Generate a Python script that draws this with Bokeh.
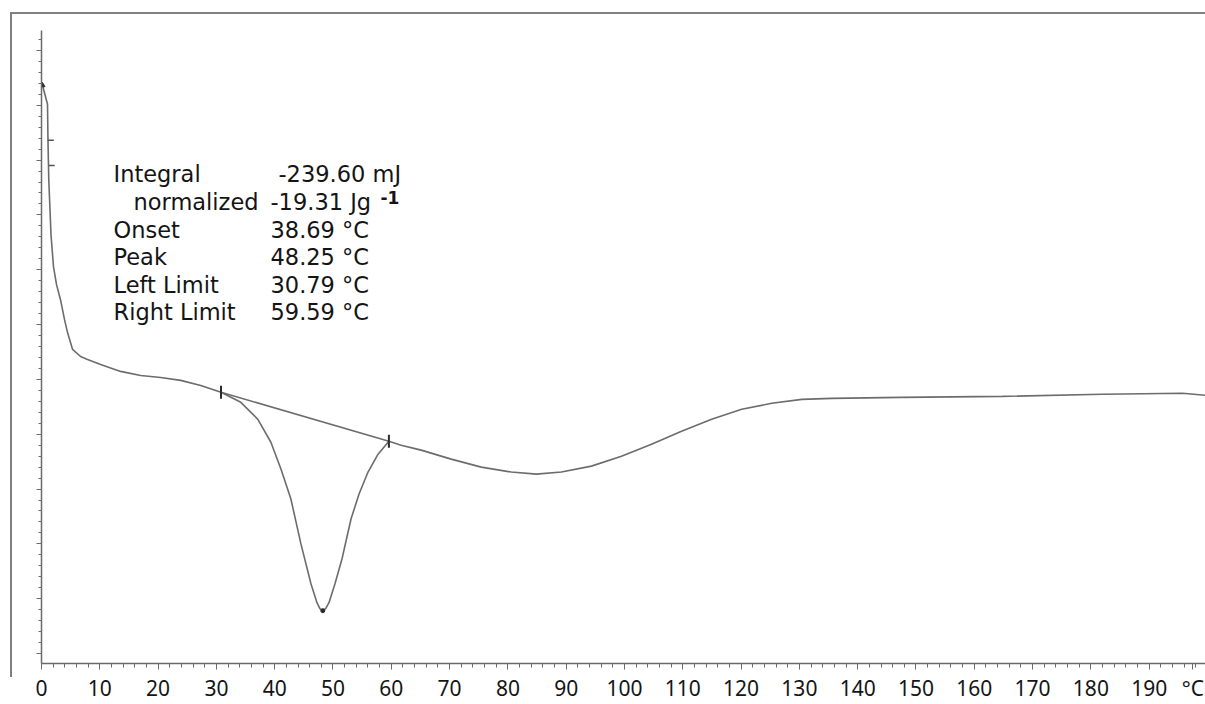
import numpy as np
from bokeh.plotting import figure
from bokeh.models import (Range1d, FixedTicker, CustomJSTickFormatter,
                          SingleIntervalTicker, InlineStyleSheet)
from bokeh.core.properties import value
from bokeh.embed import file_html
from bokeh.resources import INLINE

# DSC heating scan: temperature (°C) against heat flow (mW)
temperature = [0.17, 1.03, 1.11, 1.25, 1.46, 1.63, 2.06, 2.58, 3.26, 3.95,
               4.47, 5.33, 6.70, 7.90, 10.14, 13.57, 17.01, 20.45, 23.88, 27.32,
               30.79, 34.19, 37.11, 39.35, 41.07, 42.78, 44.50, 46.22, 47.25, 47.75,
               48.25, 48.75, 49.31, 50.34, 51.55, 53.09, 54.47, 56.01, 57.73, 59.59,
               61.68, 65.12, 70.27, 75.43, 80.58, 84.88, 89.18, 94.33, 99.48, 104.64,
               109.79, 114.95, 120.10, 125.26, 130.41, 135.57, 147.42, 164.78, 181.96, 195.70,
               199.66]
heat_flow = [1.682, 1.509, 1.182, 0.818, 0.545, 0.318, 0.027, -0.136, -0.273, -0.455,
             -0.573, -0.727, -0.791, -0.818, -0.864, -0.927, -0.964, -0.982, -1.009, -1.055,
             -1.118, -1.209, -1.364, -1.573, -1.818, -2.091, -2.500, -2.864, -3.036, -3.090,
             -3.109, -3.090, -3.036, -2.864, -2.636, -2.273, -2.045, -1.845, -1.682, -1.564,
             -1.600, -1.645, -1.727, -1.800, -1.845, -1.864, -1.845, -1.791, -1.700, -1.591,
             -1.473, -1.364, -1.273, -1.218, -1.182, -1.173, -1.164, -1.155, -1.136, -1.127,
             -1.145]

# peak evaluation
left_limit = 30.79
right_limit = 59.59
peak_temp = 48.25

result_names = ["Integral", "normalized", "Onset", "Peak", "Left Limit", "Right Limit"]
result_values = ["-239.60 mJ", "-19.31 Jg", "38.69 \u00b0C", "48.25 \u00b0C",
                 "30.79 \u00b0C", "59.59 \u00b0C"]

# temperature axis: numbered every 10 °C, unit written at the end
x_major = list(range(0, 200, 10))
unit_pos = 197.5
x_minor = list(range(0, 200, 2))
unit_label = "\u00b0C"

FONT = value("DejaVu Sans")
CURVE = "#6c6c6c"
AXIS = "#6a6a6a"
INK = "#141414"


def flow_at(t):
    return heat_flow[temperature.index(t)]


p = figure(width=1205, height=704, output_backend="svg", toolbar_location=None,
           x_range=Range1d(0, 199.66), y_range=Range1d(-3.5909, 2.1818),
           min_border_left=41, min_border_right=0, min_border_top=30,
           min_border_bottom=39)
p.outline_line_color = None
p.grid.visible = False
p.background_fill_color = "white"
p.border_fill_color = "white"

# thin instrument-style frame on the left and top of the page
p.stylesheets = [InlineStyleSheet(css="""
:host::after {
  content: "";
  position: absolute;
  left: 10px;
  top: 12px;
  right: 0;
  height: 663px;
  border-left: 2px solid #808080;
  border-top: 2px solid #808080;
  pointer-events: none;
  z-index: 5;
}
""")]

xa = p.xaxis[0]
xa.ticker = FixedTicker(ticks=x_major + [unit_pos], minor_ticks=x_minor)
xa.formatter = CustomJSTickFormatter(
    args=dict(unit=unit_label, unit_pos=unit_pos),
    code="return tick == unit_pos ? unit : tick.toFixed(0);")
xa.axis_line_color = AXIS
xa.axis_line_width = 1.5
xa.major_tick_line_color = AXIS
xa.minor_tick_line_color = AXIS
xa.major_tick_out = 6
xa.major_tick_in = 0
xa.minor_tick_out = 4
xa.minor_tick_in = 0
xa.major_label_text_font = "Noto Sans"
xa.major_label_text_font_size = "21px"
xa.major_label_text_color = INK
xa.major_label_standoff = 4

# heat-flow axis: ticks only, no numbers
ya = p.yaxis[0]
ya.ticker = SingleIntervalTicker(interval=0.5, num_minor_ticks=5)
ya.formatter = CustomJSTickFormatter(code="return ''")
ya.axis_line_color = AXIS
ya.axis_line_width = 1.5
ya.major_tick_line_color = AXIS
ya.minor_tick_line_color = AXIS
ya.major_tick_out = 5
ya.major_tick_in = 0
ya.minor_tick_out = 3
ya.minor_tick_in = 0

# measured curve
p.line(temperature, heat_flow, line_color=CURVE, line_width=1.6)

# integration baseline between the limits
p.line([left_limit, right_limit], [flow_at(left_limit), flow_at(right_limit)],
       line_color=CURVE, line_width=1.6)

# limit markers and peak marker
p.scatter([left_limit, right_limit], [flow_at(left_limit), flow_at(right_limit)],
          marker="dash", angle=np.pi / 2, size=13, line_color="#2a2a2a", line_width=2)
p.scatter([peak_temp], [flow_at(peak_temp)], marker="circle", size=4,
          fill_color="#2a2a2a", line_color="#2a2a2a")
p.scatter([temperature[0]], [heat_flow[0]], marker="triangle", size=5,
          fill_color="#2a2a2a", line_color="#2a2a2a")
p.scatter([1.6, 1.75], [1.18, 0.95], marker="dash", size=6,
          line_color="#555555", line_width=1.5)

# result table
name_x = [12.35, 15.78, 12.35, 12.35, 12.35, 12.35]
value_x = [40.65, 39.28, 39.28, 39.28, 39.28, 39.28]
row_y = [0.873, 0.618, 0.364, 0.114, -0.136, -0.386]
p.text(name_x, row_y, text=result_names, text_font=FONT, text_font_size="22.5px",
       text_color=INK, text_baseline="middle", text_align="left")
p.text(value_x, row_y, text=result_values, text_font=FONT, text_font_size="22.5px",
       text_color=INK, text_baseline="middle", text_align="left")
p.text([58.15], [0.655], text=["-1"], text_font=FONT, text_font_size="17px",
       text_font_style="bold", text_color=INK, text_baseline="middle",
       text_align="left")

open("out.html", "w").write(file_html(p, INLINE))
